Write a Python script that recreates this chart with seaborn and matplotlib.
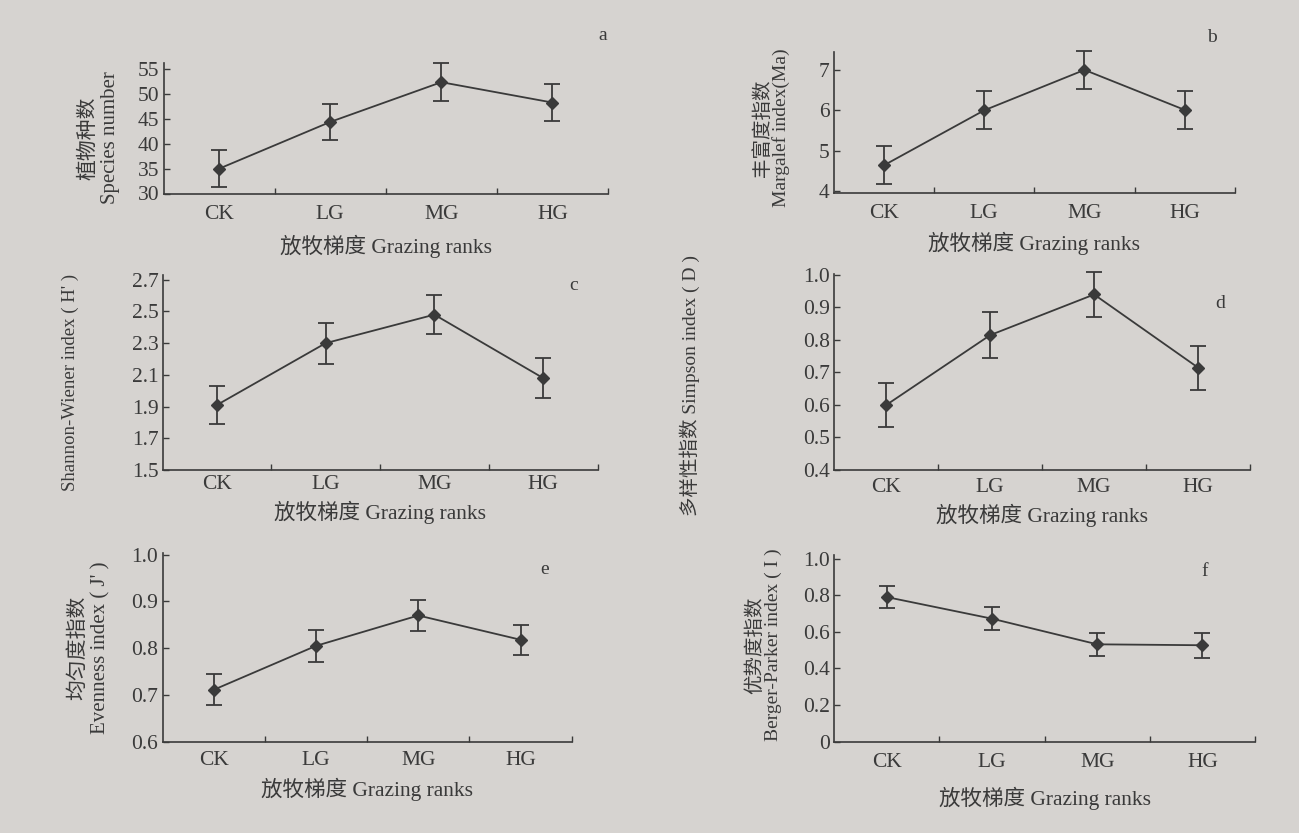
import numpy as np
import matplotlib
matplotlib.use('Agg')
import matplotlib.pyplot as plt
import seaborn as sns
from matplotlib.ticker import FixedLocator

grazing = ['CK', 'LG', 'MG', 'HG']

species_mean = [35.0, 44.4, 52.4, 48.3]
species_err = [3.7, 3.7, 3.8, 3.75]
margalef_mean = [4.64, 6.0, 7.0, 6.01]
margalef_err = [0.47, 0.47, 0.47, 0.47]
shannon_mean = [1.91, 2.30, 2.48, 2.08]
shannon_err = [0.12, 0.13, 0.125, 0.125]
simpson_mean = [0.60, 0.815, 0.94, 0.715]
simpson_err = [0.068, 0.07, 0.07, 0.068]
evenness_mean = [0.711, 0.805, 0.87, 0.818]
evenness_err = [0.033, 0.034, 0.033, 0.032]
berger_mean = [0.79, 0.672, 0.532, 0.527]
berger_err = [0.062, 0.064, 0.064, 0.068]

species_ticks = [30, 35, 40, 45, 50, 55]
margalef_ticks = [4, 5, 6, 7]
shannon_ticks = [1.5, 1.7, 1.9, 2.1, 2.3, 2.5, 2.7]
simpson_ticks = [0.4, 0.5, 0.6, 0.7, 0.8, 0.9, 1.0]
evenness_ticks = [0.6, 0.7, 0.8, 0.9, 1.0]
berger_ticks = [0, 0.2, 0.4, 0.6, 0.8, 1.0]

sns.set_style('ticks')
plt.rcParams['font.family'] = ['Liberation Serif', 'Noto Sans CJK SC', 'DejaVu Sans']
plt.rcParams['axes.unicode_minus'] = False

BG = '#d6d3d0'
INK = '#3a3a3a'
TXT = 15.5

fig = plt.figure(figsize=(12.99, 8.33), dpi=100)
fig.patch.set_facecolor(BG)

W, H = 1299, 833


def panel(rect, mean, err, ticks, ylim, fmt, ylabel, ylab_xy, ylab_size, ylab_ls,
          tick_pad, xlab_y, letter, letter_xy):
    # rect = (left, top, right, bottom) in pixels of the 1299x833 canvas
    l, t, r, b = rect
    ax = fig.add_axes([l / W, 1 - b / H, (r - l) / W, (b - t) / H])
    ax.set_facecolor('none')
    sns.pointplot(x=grazing, y=mean, order=grazing, ax=ax, color=INK,
                  markers='D', markersize=6, linewidth=1.3, errorbar=None)
    ax.errorbar(np.arange(len(grazing)), mean, yerr=err, fmt='none', ecolor=INK,
                elinewidth=1.3, capsize=6, capthick=1.3, clip_on=False)
    ax.set_xlim(-0.5, 3.5)
    ax.set_ylim(*ylim)
    ax.set_yticks(ticks)
    ax.set_yticklabels([fmt(v) for v in ticks])
    ax.xaxis.set_minor_locator(FixedLocator([0.5, 1.5, 2.5, 3.5]))
    ax.tick_params(axis='x', which='major', length=0, pad=tick_pad, labelsize=TXT, colors=INK)
    ax.tick_params(axis='x', which='minor', direction='in', length=4, width=1, color=INK)
    ax.tick_params(axis='y', direction='in', length=4, width=1, pad=3, labelsize=TXT, colors=INK)
    sns.despine(ax=ax)
    for s in ['left', 'bottom']:
        ax.spines[s].set_color(INK)
        ax.spines[s].set_linewidth(1.2)

    ax.set_xlabel('放牧梯度 Grazing ranks', fontsize=TXT, color=INK, va='center')
    ax.xaxis.set_label_coords(0.5, (b - xlab_y) / (b - t))
    ax.set_ylabel(ylabel, fontsize=ylab_size, color=INK, va='center', linespacing=ylab_ls)
    ax.yaxis.set_label_coords((ylab_xy[0] - l) / (r - l), (b - ylab_xy[1]) / (b - t))

    fig.text(letter_xy[0] / W, 1 - letter_xy[1] / H, letter, fontsize=14,
             color=INK, ha='center', va='center')
    return ax


def fmt_int(v):
    return f'{v:d}'


def fmt_1(v):
    return f'{v:.1f}'


def fmt_zero(v):
    return '0' if v == 0 else f'{v:.1f}'


panel((163.6, 63.3, 608, 193.5), species_mean, species_err, species_ticks, (30, 56.2), fmt_int,
      '植物种数\nSpecies number', (99.5, 138), 15, 1.2, 8.0, 246.7, 'a', (603, 36))
panel((833.6, 51.7, 1235, 193.3), margalef_mean, margalef_err, margalef_ticks, (3.95, 7.45), fmt_int,
      '丰富度指数\nMargalef index(Ma)', (772, 128), 14, 1.0, 8.0, 243, 'b', (1212, 37))
panel((162.5, 275, 597.5, 470), shannon_mean, shannon_err, shannon_ticks, (1.5, 2.73), fmt_1,
      "Shannon-Wiener index ( H' )", (70, 382), 13.5, 1.0, 3.8, 512, 'c', (574, 285))
panel((834.3, 274, 1250, 470), simpson_mean, simpson_err, simpson_ticks, (0.4, 1.003), fmt_1,
      '多样性指数 Simpson index ( D )', (690, 385), 14, 1.0, 6.0, 515, 'd', (1220, 303))
panel((162.5, 553.3, 571.8, 741.7), evenness_mean, evenness_err, evenness_ticks, (0.6, 1.003), fmt_1,
      "均匀度指数\nEvenness index ( J' )", (89.5, 648), 15, 1.2, 7.0, 789, 'e', (545, 570))
panel((834.3, 555, 1255, 741.7), berger_mean, berger_err, berger_ticks, (0, 1.02), fmt_zero,
      '优势度指数\nBerger-Parker index ( I )', (764, 645), 14, 1.0, 8.0, 798, 'f', (1205, 572))

fig.savefig('out.png', dpi=100, facecolor=BG)
